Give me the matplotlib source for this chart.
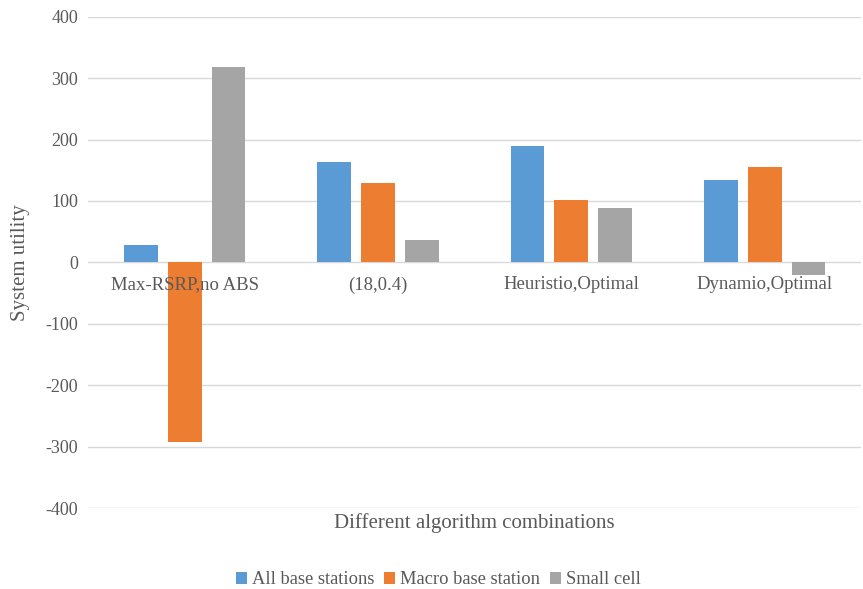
import numpy as np
import matplotlib.pyplot as plt

plt.rcParams['font.family'] = ['Liberation Serif', 'DejaVu Serif']
plt.rcParams['axes.unicode_minus'] = False

categories = ['Max-RSRP,no ABS', '(18,0.4)', 'Heuristio,Optimal', 'Dynamio,Optimal']
all_bs = [29, 164, 190, 135]
macro_bs = [-293, 130, 102, 156]
small_cell = [319, 36, 88, -21]
series_names = ['All base stations', 'Macro base station', 'Small cell']

colors = ['#5B9BD5', '#ED7D31', '#A5A5A5']
text_col = '#595959'

fig = plt.figure(figsize=(8.63, 5.89), dpi=100)
ax = fig.add_axes([0.102, 0.1375, 0.896, 0.834])

x = np.arange(len(categories))
w = 0.175
step = 0.227
for k, vals in enumerate([all_bs, macro_bs, small_cell]):
    ax.bar(x + (k - 1) * step, vals, w, color=colors[k], label=series_names[k], zorder=3)

ax.set_xlim(-0.5, len(categories) - 0.5)
ax.set_ylim(-400, 400)
ax.set_yticks(np.arange(-400, 401, 100))
ax.grid(axis='y', color='#D9D9D9', linewidth=1, zorder=0)
ax.set_xticks([])
for s in ax.spines.values():
    s.set_visible(False)
ax.tick_params(axis='y', length=0, labelsize=13, labelcolor=text_col, pad=7)

# category labels sit just under the zero line, like Excel (drawn over the bars)
for i, c in enumerate(categories):
    ax.annotate(c, (i, 0), xytext=(0, -10), textcoords='offset points',
                ha='center', va='top', fontsize=13.5, color=text_col, zorder=5)

ax.set_ylabel('System utility', fontsize=15, color=text_col, labelpad=11)
ax.set_xlabel('Different algorithm combinations', fontsize=15, color=text_col, labelpad=4)

ax.legend(loc='upper center', bbox_to_anchor=(0.453, -0.095), ncol=3, frameon=False,
          fontsize=13.3, labelcolor=text_col, handlelength=0.6, handleheight=0.6,
          handletextpad=0.3, columnspacing=0.5)

fig.savefig('out.png', dpi=100)
